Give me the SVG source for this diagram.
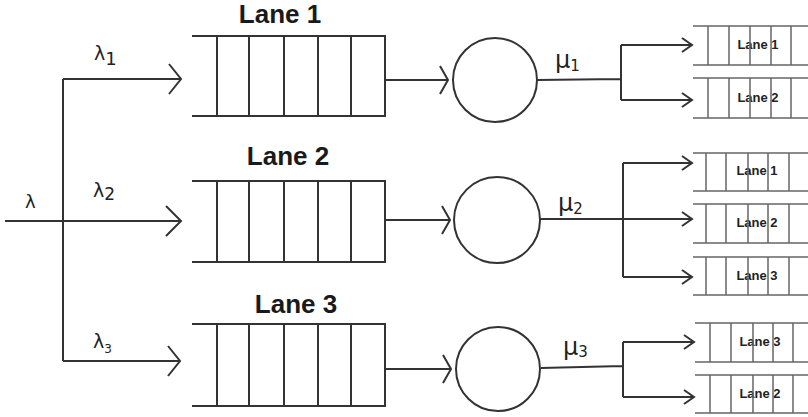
<svg xmlns="http://www.w3.org/2000/svg" width="808" height="417" viewBox="0 0 808 417">
<style>
.ln{stroke:#333;stroke-width:2;fill:none}
.sl{stroke:#666;stroke-width:1.5;fill:none}
.title{font-family:"Liberation Sans",Arial,sans-serif;font-weight:bold;font-size:26px;fill:#1a1a1a;text-anchor:middle}
.sm{font-family:"Liberation Sans",Arial,sans-serif;font-weight:bold;font-size:13px;fill:#222;text-anchor:middle}
.gr{font-family:"DejaVu Sans","Liberation Sans",sans-serif;fill:#222}
</style>
<rect width="808" height="417" fill="#fff"/>
<g id="connectors" class="ln">
<path d="M5 221H63M63 79V361"/>
<path d="M63 79H181M169 64L181 79L169 94"/>
<path d="M63 221H181M166 206L181 221L166 236"/>
<path d="M63 361H180M168 346L180 361L168 376"/>
<path d="M385 80H448M440 66L448 80L440 94"/>
<path d="M385 220H450M442 206L450 220L442 234"/>
<path d="M385 369H451M443 355L451 369L443 383"/>
<path d="M537 80L621 79M621 45V100M621 45H692M621 100H692M682 38L692 45L682 52M682 93L692 100L682 107"/>
<path d="M540 219H692M623 163V277M623 163H692M623 277H692M682 156L692 163L682 170M682 212L692 219L682 226M682 270L692 277L682 284"/>
<path d="M541 368L623 366M623 342V397M623 342H694M623 397H694M684 335L694 342L684 349M684 390L694 397L684 404"/>
</g>
<g id="labels" class="gr">
<text x="25" y="208" font-size="18">λ</text>
<text x="94" y="60" font-size="19">λ<tspan font-size="18" dy="5">1</tspan></text>
<text x="93" y="197" font-size="19">λ<tspan font-size="17" dy="3">2</tspan></text>
<text x="93" y="348" font-size="19">λ<tspan font-size="12" dy="5">3</tspan></text>
<text x="555" y="68" font-size="24">μ<tspan font-size="15" dy="3">1</tspan></text>
<text x="558" y="211" font-size="24">μ<tspan font-size="15" dy="3">2</tspan></text>
<text x="563" y="355" font-size="24">μ<tspan font-size="15" dy="2">3</tspan></text>
</g>
<g id="queue1">
<text class="title" x="280" y="23">Lane 1</text>
<path class="ln" d="M192 36H385V116H192M217 36V116M249 36V116M284 36V116M318 36V116M351 36V116"/>
</g>
<g id="queue2">
<text class="title" x="288" y="165">Lane 2</text>
<path class="ln" d="M192 181H385V262H192M217 181V262M249 181V262M284 181V262M318 181V262M351 181V262"/>
</g>
<g id="queue3">
<text class="title" x="296" y="313">Lane 3</text>
<path class="ln" d="M192 324H385V406H192M217 324V406M249 324V406M284 324V406M318 324V406M351 324V406"/>
</g>
<g id="server1"><circle class="ln" cx="495" cy="80" r="42"/></g>
<g id="server2"><circle class="ln" cx="497" cy="220" r="43"/></g>
<g id="server3"><circle class="ln" cx="498" cy="369" r="42"/></g>
<g id="out1-lane1">
<text class="sm" x="758" y="49">Lane 1</text>
<path class="sl" d="M693 26H808M693 65H808M708 26V65M729 26V65M750 26V65M771 26V65M791 26V65"/>
</g>
<g id="out1-lane2">
<text class="sm" x="758" y="102">Lane 2</text>
<path class="sl" d="M693 78H808M693 118H808M708 78V118M729 78V118M750 78V118M771 78V118M791 78V118"/>
</g>
<g id="out2-lane1">
<text class="sm" x="757" y="175">Lane 1</text>
<path class="sl" d="M693 153H808M693 191H808M706 153V191M726 153V191M748 153V191M768 153V191M789 153V191"/>
</g>
<g id="out2-lane2">
<text class="sm" x="757" y="227">Lane 2</text>
<path class="sl" d="M693 204H808M693 243H808M706 204V243M726 204V243M748 204V243M768 204V243M789 204V243"/>
</g>
<g id="out2-lane3">
<text class="sm" x="757" y="280">Lane 3</text>
<path class="sl" d="M693 257H808M693 295H808M706 257V295M726 257V295M748 257V295M768 257V295M789 257V295"/>
</g>
<g id="out3-lane3">
<text class="sm" x="760" y="346">Lane 3</text>
<path class="sl" d="M695 323H808M695 362H808M710 323V362M731 323V362M753 323V362M773 323V362M793 323V362"/>
</g>
<g id="out3-lane2">
<text class="sm" x="760" y="398">Lane 2</text>
<path class="sl" d="M695 375H808M695 413H808M710 375V413M731 375V413M753 375V413M773 375V413M793 375V413"/>
</g>
</svg>
